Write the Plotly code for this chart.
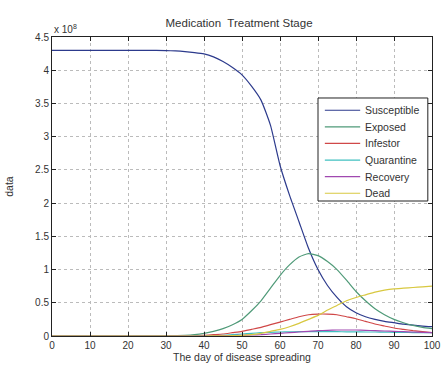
import plotly.graph_objects as go

days = [0, 5, 10, 15, 20, 25, 30, 32.5, 35, 37.5, 40, 42.5, 45, 47.5, 50, 52.5, 55, 57.5, 60,
        62.5, 65, 67.5, 70, 72.5, 75, 77.5, 80, 82.5, 85, 87.5, 90, 92.5, 95, 97.5, 100]

susceptible = [4.30, 4.30, 4.30, 4.30, 4.30, 4.30, 4.295, 4.29, 4.28, 4.265, 4.245, 4.20, 4.13, 4.04,
               3.93, 3.76, 3.55, 3.17, 2.57, 2.12, 1.72, 1.32, 1.00, 0.76, 0.58, 0.44, 0.35, 0.29,
               0.25, 0.22, 0.20, 0.18, 0.165, 0.15, 0.14]
exposed = [0, 0, 0, 0, 0, 0.002, 0.005, 0.007, 0.01, 0.02, 0.04, 0.07, 0.11, 0.17, 0.25, 0.38, 0.53,
           0.72, 0.91, 1.07, 1.19, 1.24, 1.21, 1.12, 1.00, 0.84, 0.67, 0.53, 0.41, 0.32, 0.25, 0.20,
           0.16, 0.13, 0.11]
infestor = [0, 0, 0, 0, 0, 0, 0, 0.001, 0.003, 0.006, 0.01, 0.02, 0.03, 0.05, 0.07, 0.10, 0.13, 0.17,
            0.21, 0.25, 0.29, 0.32, 0.33, 0.33, 0.32, 0.29, 0.26, 0.22, 0.18, 0.15, 0.12, 0.10, 0.08,
            0.065, 0.05]
quarantine = [0, 0, 0, 0, 0, 0, 0, 0, 0, 0.001, 0.002, 0.005, 0.01, 0.02, 0.03, 0.04, 0.05, 0.055,
              0.06, 0.062, 0.065, 0.065, 0.065, 0.065, 0.065, 0.063, 0.062, 0.06, 0.06, 0.058, 0.055,
              0.053, 0.052, 0.05, 0.05]
recovery = [0, 0, 0, 0, 0, 0, 0, 0, 0, 0, 0.001, 0.003, 0.005, 0.007, 0.01, 0.015, 0.02, 0.03, 0.04,
            0.05, 0.06, 0.07, 0.08, 0.085, 0.09, 0.09, 0.09, 0.085, 0.08, 0.075, 0.07, 0.065, 0.06,
            0.055, 0.05]
dead = [0, 0, 0, 0, 0, 0, 0, 0, 0, 0, 0, 0.001, 0.002, 0.005, 0.01, 0.02, 0.04, 0.07, 0.10, 0.14,
        0.19, 0.25, 0.31, 0.39, 0.46, 0.53, 0.58, 0.62, 0.66, 0.69, 0.71, 0.72, 0.73, 0.74, 0.75]

names = ["Susceptible", "Exposed", "Infestor", "Quarantine", "Recovery", "Dead"]
series = [susceptible, exposed, infestor, quarantine, recovery, dead]
colors = ["#2c3a8c", "#4f9a78", "#d04848", "#40c0c0", "#a048b0", "#d8c840"]

x_ticks = list(range(0, 101, 10))
y_ticks = [0, 0.5, 1, 1.5, 2, 2.5, 3, 3.5, 4, 4.5]
y_ticklabels = ["0", "0.5", "1", "1.5", "2", "2.5", "3", "3.5", "4", "4.5"]

fig = go.Figure()
for n, s, c in zip(names, series, colors):
    fig.add_trace(go.Scatter(x=days, y=s, name=n, mode="lines", showlegend=False,
                             line=dict(color=c, width=1.2, shape="spline", smoothing=0.5)))

FAM = "Liberation Sans, Arial, sans-serif"
font = dict(family=FAM, size=10, color="#333")
font_lab = dict(family=FAM, size=10.5, color="#333")
font_title = dict(family=FAM, size=11.5, color="#333")

axis_common = dict(showline=True, linecolor="#222", linewidth=1, mirror="ticks",
                   ticks="inside", ticklen=4, tickcolor="#222", automargin=False,
                   showgrid=True, gridcolor="#bbb", griddash="dot", gridwidth=1,
                   zeroline=False, tickfont=font)

fig.update_layout(
    width=446, height=365,
    margin=dict(l=52, r=14, t=37, b=29),
    paper_bgcolor="white", plot_bgcolor="white",
    font=font,
    title=dict(text="Medication  Treatment Stage", x=0.536, xanchor="center",
               y=0.937, yanchor="middle", font=font_title),
    xaxis=dict(range=[0, 100], tickvals=x_ticks,
               title=dict(text="The day of disease spreading", font=font_lab, standoff=1),
               **axis_common),
    yaxis=dict(range=[0, 4.5], tickvals=y_ticks, ticktext=y_ticklabels,
               title=dict(text="data", font=font_lab, standoff=19),
               **axis_common),
    showlegend=False,
)

fig.add_annotation(text="x 10<sup>8</sup>", xref="paper", yref="paper", x=0, y=1,
                   xanchor="left", yanchor="bottom", showarrow=False, font=font)

# legend box (MATLAB style), positioned in plot-area fractions
bx0, bx1, by0, by1 = 0.70, 0.989, 0.4515, 0.796
fig.add_shape(type="rect", xref="paper", yref="paper", x0=bx0, x1=bx1, y0=by0, y1=by1,
              line=dict(color="#222", width=1), fillcolor="white", layer="above")
item_top = 0.755
item_step = 0.0555
for i, (n, c) in enumerate(zip(names, colors)):
    yy = item_top - i * item_step
    fig.add_shape(type="line", xref="paper", yref="paper", x0=0.718, x1=0.811, y0=yy, y1=yy,
                  line=dict(color=c, width=1.2), layer="above")
    fig.add_annotation(text=n, xref="paper", yref="paper", x=0.818, y=yy, xanchor="left",
                       yanchor="middle", showarrow=False, font=font_lab)

fig.write_html("out.html", config={"displayModeBar": False},
               post_script="document.body.style.margin='0';document.body.style.overflow='hidden';")
